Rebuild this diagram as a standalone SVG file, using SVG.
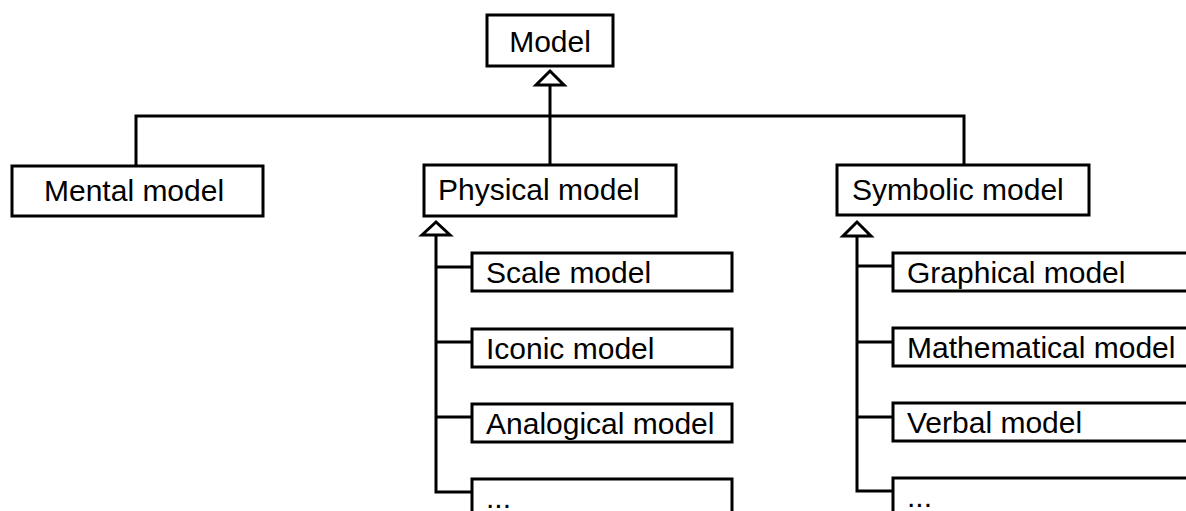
<svg xmlns="http://www.w3.org/2000/svg" width="1186" height="511" viewBox="0 0 1186 511">
<style>
.box{fill:#fff;stroke:#000;stroke-width:3}
.ln{fill:none;stroke:#000;stroke-width:3}
.tri{fill:#fff;stroke:#000;stroke-width:3;stroke-linejoin:miter}
text{font-family:"Liberation Sans",Arial,sans-serif;font-size:30px;fill:#000}
</style>
<rect width="1186" height="511" fill="#fff"/>
<g id="connectors">
<path class="ln" d="M550 85V165"/>
<path class="ln" d="M136 166V116H964V165"/>
<polygon class="tri" points="550,71 536,85 564,85"/>
<path class="ln" d="M436 235V492H472M436 267H472M436 342H472M436 417H472"/>
<polygon class="tri" points="436,222 422,235 450,235"/>
<path class="ln" d="M857 236V491H893M857 266H893M857 342H893M857 417H893"/>
<polygon class="tri" points="857,222 843,236 871,236"/>
</g>
<g id="model"><rect class="box" x="487" y="15" width="126" height="51"/><text x="550" y="52" text-anchor="middle">Model</text></g>
<g id="mental"><rect class="box" x="12" y="166" width="251" height="50"/><text x="44" y="201">Mental model</text></g>
<g id="physical"><rect class="box" x="424" y="165" width="252" height="51"/><text x="438" y="200">Physical model</text></g>
<g id="symbolic"><rect class="box" x="837" y="165" width="252" height="50"/><text x="852" y="200">Symbolic model</text></g>
<g id="scale"><rect class="box" x="472" y="253" width="260" height="38"/><text x="486" y="283">Scale model</text></g>
<g id="iconic"><rect class="box" x="472" y="329" width="260" height="38"/><text x="486" y="359">Iconic model</text></g>
<g id="analogical"><rect class="box" x="472" y="404" width="260" height="38"/><text x="486" y="434">Analogical model</text></g>
<g id="phys-more"><rect class="box" x="472" y="479" width="260" height="60"/><text x="486" y="508">...</text></g>
<g id="graphical"><rect class="box" x="893" y="253" width="310" height="38"/><text x="907" y="283">Graphical model</text></g>
<g id="mathematical"><rect class="box" x="893" y="328" width="310" height="38"/><text x="907" y="358">Mathematical model</text></g>
<g id="verbal"><rect class="box" x="893" y="403" width="310" height="38"/><text x="907" y="433">Verbal model</text></g>
<g id="sym-more"><rect class="box" x="893" y="478" width="310" height="60"/><text x="907" y="507">...</text></g>
</svg>
